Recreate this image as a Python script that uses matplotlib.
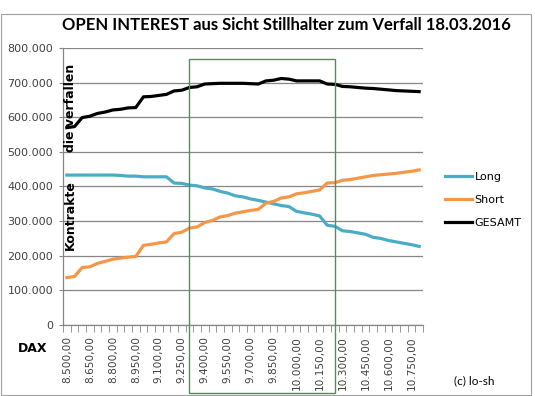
import numpy as np
import matplotlib.pyplot as plt
from matplotlib.patches import Rectangle
plt.switch_backend('agg')

# DAX strikes, 8.500 .. 10.800 in steps of 50
strikes = [8500, 8550, 8600, 8650, 8700, 8750, 8800, 8850, 8900, 8950,
           9000, 9050, 9100, 9150, 9200, 9250, 9300, 9350, 9400, 9450,
           9500, 9550, 9600, 9650, 9700, 9750, 9800, 9850, 9900, 9950,
           10000, 10050, 10100, 10150, 10200, 10250, 10300, 10350, 10400, 10450,
           10500, 10550, 10600, 10650, 10700, 10750, 10800]

# open interest in thousands of contracts
long_oi = [433, 433, 433, 433, 433, 433, 433, 432, 430, 430,
           428, 428, 428, 428, 410, 409, 404, 402, 396, 393,
           386, 381, 373, 370, 364, 360, 355, 350, 345, 342,
           328, 324, 320, 315, 288, 285, 272, 270, 266, 262,
           253, 250, 244, 240, 236, 232, 227]
short_oi = [137, 140, 166, 168, 178, 184, 190, 193, 196, 198,
            230, 233, 237, 240, 264, 268, 280, 283, 296, 302,
            312, 316, 323, 327, 331, 334, 352, 357, 367, 370,
            379, 382, 386, 390, 410, 411, 418, 420, 424, 428,
            432, 434, 436, 438, 441, 444, 448]
gesamt_oi = [570, 573, 599, 603, 611, 615, 621, 623, 627, 628,
             659, 660, 663, 666, 676, 678, 686, 688, 696, 697,
             698, 698, 698, 698, 697, 696, 705, 707, 712, 710,
             705, 705, 705, 705, 696, 695, 689, 688, 686, 684,
             683, 681, 679, 677, 676, 675, 674]

grid_col = '#868686'

fig = plt.figure(figsize=(5.35, 3.96), dpi=100)
ax = fig.add_axes([63/535, 1-325/396, 360/535, 277/396])

x = np.arange(len(strikes))
ax.plot(x, np.array(long_oi)*1000, color='#4BACC6', lw=2.3, label='Long', solid_joinstyle='round')
ax.plot(x, np.array(short_oi)*1000, color='#F79646', lw=2.3, label='Short', solid_joinstyle='round')
ax.plot(x, np.array(gesamt_oi)*1000, color='black', lw=2.3, label='GESAMT', solid_joinstyle='round')

ax.set_xlim(-0.5, len(strikes)-0.5)
ax.set_ylim(0, 800000)

yt = np.arange(0, 800001, 100000)
ax.set_yticks(yt)
ax.set_yticklabels([f"{v:,.0f}".replace(',', '.') for v in yt], fontsize=8, color='#404040')
ax.yaxis.grid(True, color=grid_col, lw=0.9)
ax.set_axisbelow(True)
ax.tick_params(axis='y', length=3, color=grid_col, pad=4)

# labels every third strike, small ticks on every category boundary
ax.set_xticks(x[::3])
ax.set_xticklabels([f"{s:,.2f}".replace(',', 'X').replace('.', ',').replace('X', '.') for s in strikes[::3]],
                   rotation=90, fontsize=7.6, color='#404040')
ax.set_xticks(np.arange(-0.5, len(strikes)), minor=True)
ax.tick_params(axis='x', which='major', length=0, pad=8)
ax.tick_params(axis='x', which='minor', length=5, color=grid_col)

for s in ['top', 'right']:
    ax.spines[s].set_visible(False)
for s in ['left', 'bottom']:
    ax.spines[s].set_color(grid_col)
    ax.spines[s].set_linewidth(0.9)

# green box around the strikes of interest
box = Rectangle((16, -197000), 19, 964000, fill=False, edgecolor='#3E9A52', lw=1.0, clip_on=False, zorder=5)
ax.add_patch(box)

fig.text(286/535, 1-25/396, 'OPEN INTEREST aus Sicht Stillhalter zum Verfall 18.03.2016',
         ha='center', va='center', fontsize=12, fontweight='bold', family='Lato')

# axis title sits inside the plot
fig.text(70/535, 1-215/396, 'Kontrakte', rotation=90, ha='center', va='center',
         fontsize=9, fontweight='bold')
fig.text(70/535, 1-108/396, 'die verfallen', rotation=90, ha='center', va='center',
         fontsize=9, fontweight='bold')
fig.text(33/535, 1-348/396, 'DAX', ha='center', va='center', fontsize=9, fontweight='bold')
fig.text(474/535, 1-381/396, '(c) lo-sh', ha='center', va='center', fontsize=8.5, family='Lato')

ax.legend(loc='center left', bbox_to_anchor=(435/535, 1-200/396), bbox_transform=fig.transFigure,
          frameon=False, fontsize=8, handlelength=2.4, handletextpad=0.25, labelspacing=1.2)

# chart area border
fig.add_artist(Rectangle((0.002, 0.002), 0.990, 0.962, transform=fig.transFigure,
                         fill=False, edgecolor='#A0A0A0', lw=0.8))

plt.savefig('out.png', dpi=100)
plt.close()
